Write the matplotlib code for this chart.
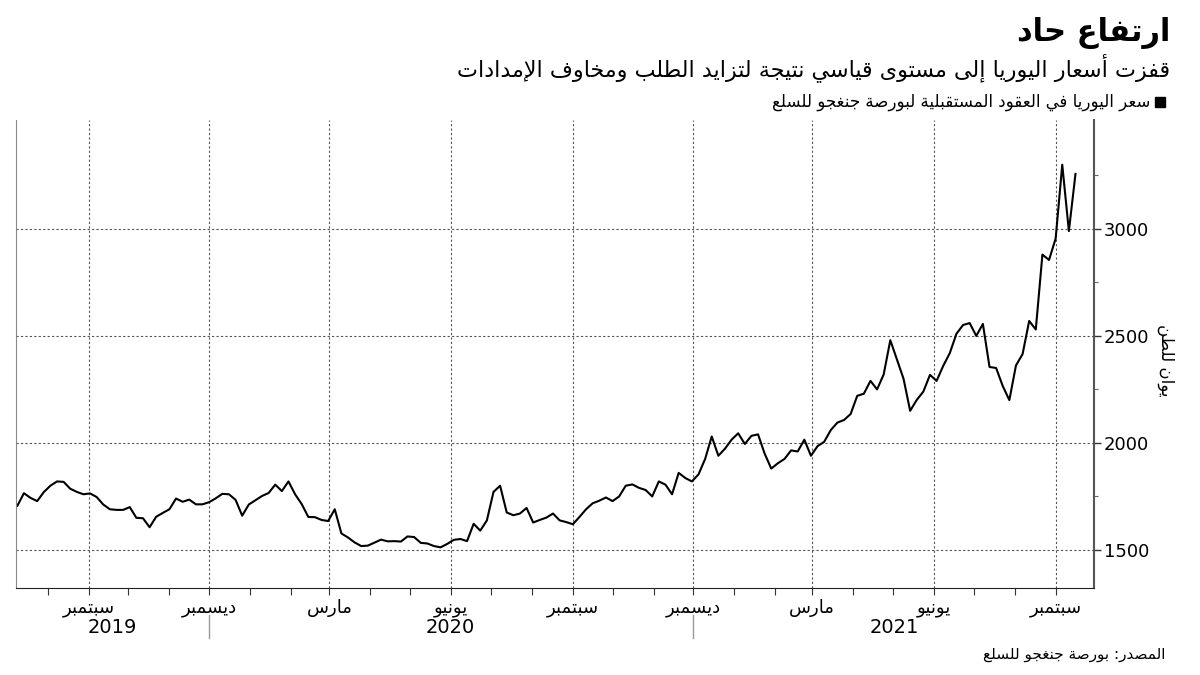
import matplotlib
matplotlib.use("Agg")
import matplotlib.pyplot as plt
import matplotlib.dates as mdates
import matplotlib.transforms as mtransforms
import pandas as pd

# --- data ---
start_date = "2019-07-09"
prices = [
    1706, 1765, 1743, 1728, 1770, 1800, 1820, 1818, 1786, 1771,
    1760, 1764, 1747, 1712, 1690, 1687, 1687, 1700, 1650, 1648,
    1606, 1655, 1673, 1690, 1740, 1725, 1735, 1713, 1713, 1723,
    1741, 1762, 1760, 1734, 1660, 1712, 1732, 1752, 1766, 1805,
    1775, 1820, 1760, 1714, 1654, 1653, 1640, 1635, 1690, 1577,
    1558, 1535, 1518, 1520, 1534, 1548, 1540, 1541, 1539, 1563,
    1560, 1533, 1530, 1518, 1512, 1528, 1547, 1551, 1541, 1622,
    1590, 1638, 1771, 1800, 1675, 1662, 1670, 1696, 1628, 1640,
    1651, 1670, 1638, 1630, 1620, 1654, 1690, 1718, 1730, 1745,
    1728, 1750, 1800, 1806, 1790, 1780, 1750, 1820, 1805, 1760,
    1860, 1836, 1820, 1853, 1925, 2030, 1940, 1973, 2015, 2045,
    1995, 2033, 2040, 1950, 1880, 1905, 1925, 1965, 1960, 2015,
    1940, 1985, 2005, 2060, 2095, 2107, 2135, 2220, 2230, 2290,
    2250, 2320, 2480, 2390, 2300, 2150, 2201, 2240, 2318, 2290,
    2360, 2420, 2510, 2551, 2560, 2500, 2556, 2355, 2350, 2266,
    2200, 2362, 2415, 2570, 2530, 2880, 2855, 2955, 3300, 2990,
    3257,
]
dates = pd.date_range(start_date, periods=len(prices), freq="5D")

month_ticks = ["2019-09-01", "2019-12-01", "2020-03-01", "2020-06-01", "2020-09-01",
               "2020-12-01", "2021-03-01", "2021-06-01", "2021-09-01"]
month_names = ["سبتمبر", "ديسمبر", "مارس", "يونيو", "سبتمبر",
               "ديسمبر", "مارس", "يونيو", "سبتمبر"]
years = ["2019", "2020", "2021"]
year_pos = ["2019-09-19", "2020-05-31", "2021-05-02"]
year_breaks = ["2019-12-01", "2020-12-01"]
y_ticks = [1500, 2000, 2500, 3000]

title = "ارتفاع حاد"
subtitle = "قفزت أسعار اليوريا إلى مستوى قياسي نتيجة لتزايد الطلب ومخاوف الإمدادات"
legend_label = "سعر اليوريا في العقود المستقبلية لبورصة جنغجو للسلع"
y_label = "يوان للطن"
source = "المصدر: بورصة جنغجو للسلع"


# minimal arabic shaping: presentation forms + reverse for display
FORMS = {
    "ا": ("\ufe8d", "\ufe8e", None, None),
    "أ": ("\ufe83", "\ufe84", None, None),
    "إ": ("\ufe87", "\ufe88", None, None),
    "ب": ("\ufe8f", "\ufe90", "\ufe91", "\ufe92"),
    "ة": ("\ufe93", "\ufe94", None, None),
    "ت": ("\ufe95", "\ufe96", "\ufe97", "\ufe98"),
    "ج": ("\ufe9d", "\ufe9e", "\ufe9f", "\ufea0"),
    "ح": ("\ufea1", "\ufea2", "\ufea3", "\ufea4"),
    "خ": ("\ufea5", "\ufea6", "\ufea7", "\ufea8"),
    "د": ("\ufea9", "\ufeaa", None, None),
    "ر": ("\ufead", "\ufeae", None, None),
    "ز": ("\ufeaf", "\ufeb0", None, None),
    "س": ("\ufeb1", "\ufeb2", "\ufeb3", "\ufeb4"),
    "ص": ("\ufeb9", "\ufeba", "\ufebb", "\ufebc"),
    "ط": ("\ufec1", "\ufec2", "\ufec3", "\ufec4"),
    "ع": ("\ufec9", "\ufeca", "\ufecb", "\ufecc"),
    "غ": ("\ufecd", "\ufece", "\ufecf", "\ufed0"),
    "ف": ("\ufed1", "\ufed2", "\ufed3", "\ufed4"),
    "ق": ("\ufed5", "\ufed6", "\ufed7", "\ufed8"),
    "ك": ("\ufed9", "\ufeda", "\ufedb", "\ufedc"),
    "ل": ("\ufedd", "\ufede", "\ufedf", "\ufee0"),
    "م": ("\ufee1", "\ufee2", "\ufee3", "\ufee4"),
    "ن": ("\ufee5", "\ufee6", "\ufee7", "\ufee8"),
    "ه": ("\ufee9", "\ufeea", "\ufeeb", "\ufeec"),
    "و": ("\ufeed", "\ufeee", None, None),
    "ى": ("\ufeef", "\ufef0", None, None),
    "ي": ("\ufef1", "\ufef2", "\ufef3", "\ufef4"),
    "\ue001": ("\ufefb", "\ufefc", None, None),  # lam-alef
    "\ue002": ("\ufef7", "\ufef8", None, None),  # lam-alef hamza above
    "\ue003": ("\ufef9", "\ufefa", None, None),  # lam-alef hamza below
}


def ar(text):
    text = text.replace("لا", "\ue001").replace("لأ", "\ue002").replace("لإ", "\ue003")
    out = []
    for i, c in enumerate(text):
        if c not in FORMS:
            out.append(c)
            continue
        prev = text[i - 1] if i > 0 else None
        nxt = text[i + 1] if i + 1 < len(text) else None
        join_prev = prev in FORMS and FORMS[prev][2] is not None
        join_next = FORMS[c][2] is not None and nxt in FORMS
        iso, fin, ini, med = FORMS[c]
        if join_prev and join_next:
            out.append(med)
        elif join_prev:
            out.append(fin)
        elif join_next:
            out.append(ini)
        else:
            out.append(iso)
    return "".join(reversed(out))


plt.rcParams["font.family"] = ["DejaVu Sans"]

fig = plt.figure(figsize=(12, 6.75), dpi=100)
ax = fig.add_axes([16 / 1200, 1 - 588 / 675, 1078 / 1200, 468 / 675])

ax.plot(dates, prices, color="black", lw=1.5, solid_joinstyle="round")

ax.set_xlim(pd.Timestamp("2019-07-08"), pd.Timestamp("2021-09-30"))
ax.set_ylim(1322, 3509)

ax.yaxis.tick_right()
ax.set_yticks(y_ticks)
ax.set_yticks([1750, 2250, 2750, 3250], minor=True)
ax.tick_params(axis="y", which="major", length=5, width=1, pad=2, labelsize=13, color="#333")
ax.tick_params(axis="y", which="minor", length=3, width=0.8, color="#666")

ax.set_xticks(pd.to_datetime(month_ticks))
ax.set_xticklabels([ar(m) for m in month_names])
ax.xaxis.set_minor_locator(mdates.MonthLocator())
ax.tick_params(axis="x", which="major", length=5, width=0.8, pad=3, labelsize=13, color="#333")
ax.tick_params(axis="x", which="minor", length=5, width=0.8, color="#333")

ax.grid(True, which="major", linestyle=(0, (2, 2)), color="#555", lw=0.8)

ax.spines["top"].set_visible(False)
ax.spines["left"].set_color("#888")
ax.spines["right"].set_color("#555")
ax.spines["right"].set_linewidth(1.5)
ax.spines["bottom"].set_color("#222")

# years under the month labels
trans = mtransforms.blended_transform_factory(ax.transData, ax.transAxes)
for yr, pos in zip(years, year_pos):
    ax.text(pd.Timestamp(pos), -0.085, yr, transform=trans, ha="center", va="center",
            fontsize=14)
for b in year_breaks:
    ax.plot([pd.Timestamp(b)] * 2, [-0.058, -0.107], transform=trans, color="#999",
            lw=1, clip_on=False)

fig.text(1166 / 1200, 1 - 360 / 675, ar(y_label), rotation=270,
         ha="center", va="center", fontsize=12)

# header texts
fig.text(1170 / 1200, 1 - 33 / 675, ar(title), ha="right", va="center",
         fontsize=22, fontweight="bold")
fig.text(1170 / 1200, 1 - 68 / 675, ar(subtitle), ha="right", va="center", fontsize=16)
fig.text(1150 / 1200, 1 - 102 / 675, ar(legend_label), ha="right", va="center", fontsize=12)
fig.patches.append(plt.Rectangle((1155 / 1200, 1 - 107 / 675), 10 / 1200, 10 / 675,
                                 transform=fig.transFigure, color="black"))
fig.text(1165 / 1200, 1 - 655 / 675, ar(source), ha="right", va="center", fontsize=11)

fig.savefig("out.png", dpi=100)
